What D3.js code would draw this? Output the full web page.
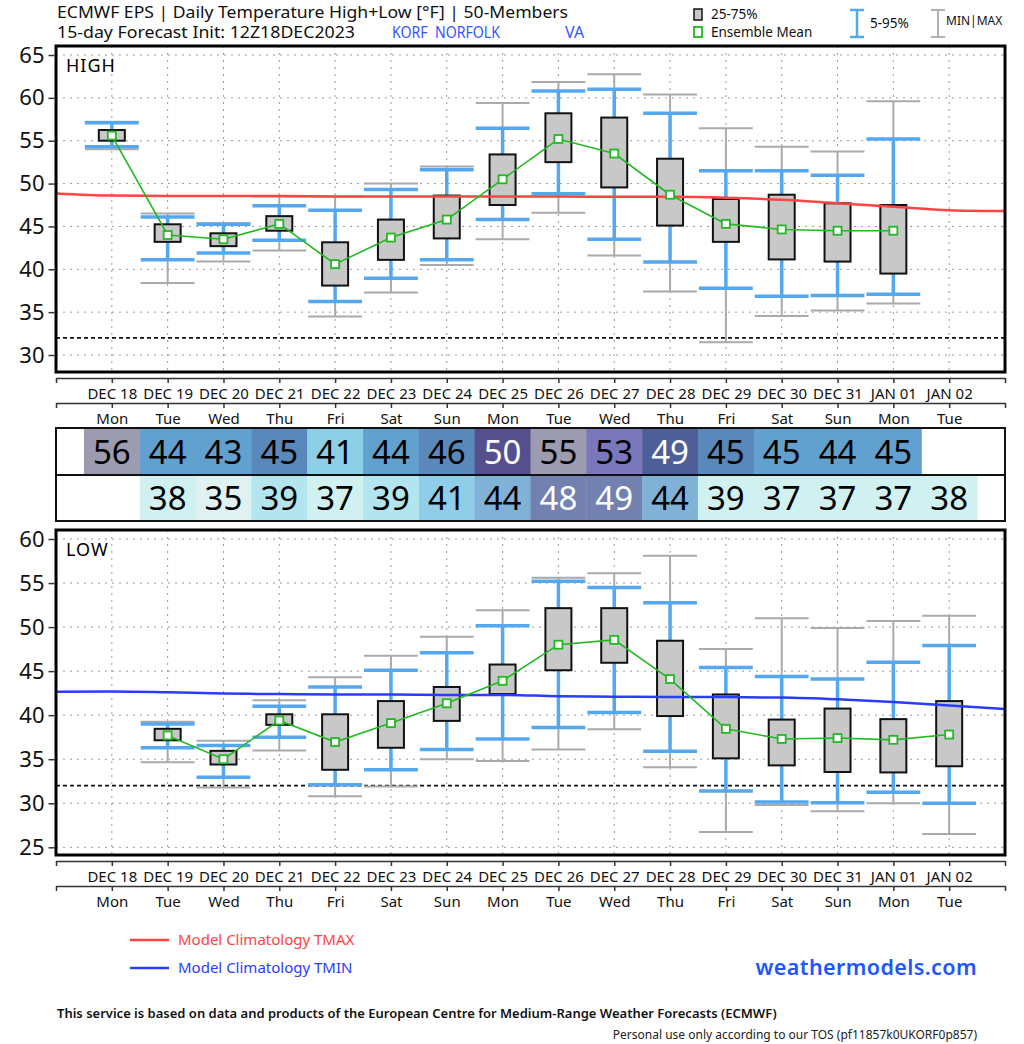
<!DOCTYPE html>
<html><head><meta charset="utf-8">
<script src="https://cdn.jsdelivr.net/npm/d3@7"></script>
<style>body{margin:0;background:#fff} svg{display:block} text{font-family:"Noto Sans",sans-serif}</style>
</head><body><svg id="c" width="1024" height="1044"></svg>
<script>
// ---------- data ----------
const days = ["DEC 18","DEC 19","DEC 20","DEC 21","DEC 22","DEC 23","DEC 24","DEC 25","DEC 26","DEC 27","DEC 28","DEC 29","DEC 30","DEC 31","JAN 01","JAN 02"];
const weekdays = ["Mon","Tue","Wed","Thu","Fri","Sat","Sun","Mon","Tue","Wed","Thu","Fri","Sat","Sun","Mon","Tue"];

// HIGH: Dec 18 .. Jan 01
const hiMin  = [54.0, 38.4, 40.9, 42.2, 34.5, 37.3, 40.5, 43.5, 46.6, 41.6, 37.4, 31.5, 34.55, 35.2, 36.0];
const hiP5   = [54.3, 41.1, 41.9, 43.4, 36.25, 38.95, 41.1, 45.8, 48.8, 43.5, 40.85, 37.8, 36.85, 36.95, 37.1];
const hiQ25  = [55.0, 43.2, 42.7, 44.5, 38.1, 41.1, 43.6, 47.5, 52.5, 49.55, 45.1, 43.2, 41.15, 40.9, 39.5];
const hiMean = [55.6, 44.0, 43.5, 45.3, 40.6, 43.7, 45.8, 50.5, 55.2, 53.5, 48.7, 45.3, 44.65, 44.5, 44.5];
const hiQ75  = [56.25, 45.25, 44.2, 46.2, 43.15, 45.8, 48.6, 53.4, 58.2, 57.7, 52.9, 48.2, 48.7, 47.7, 47.5];
const hiP95  = [57.1, 46.1, 45.25, 47.4, 46.9, 49.3, 51.6, 56.45, 60.8, 61.0, 58.2, 51.5, 51.5, 50.96, 55.2];
const hiMax  = [57.2, 46.5, 45.4, 48.5, 48.5, 50.0, 52.0, 59.4, 61.85, 62.75, 60.4, 56.45, 54.3, 53.75, 59.6];
const hiTable = [56,44,43,45,41,44,46,50,55,53,49,45,45,44,45];

// LOW: Dec 19 .. Jan 02
const loMin  = [34.65, 31.8, 36.0, 30.8, 31.9, 35.0, 34.8, 36.1, 38.4, 34.1, 26.75, 29.8, 29.1, 30.0, 26.5];
const loP5   = [36.3, 32.95, 37.5, 32.1, 33.8, 36.1, 37.3, 38.6, 40.3, 35.9, 31.4, 30.15, 30.05, 31.25, 30.0];
const loQ25  = [37.15, 34.4, 38.9, 33.8, 36.3, 39.35, 42.4, 45.1, 45.95, 39.9, 35.1, 34.3, 33.55, 33.5, 34.2];
const loMean = [37.7, 35.0, 39.4, 36.95, 39.1, 41.35, 43.9, 48.0, 48.55, 44.1, 38.45, 37.3, 37.4, 37.2, 37.8];
const loQ75  = [38.45, 35.95, 40.1, 40.1, 41.6, 43.2, 45.75, 52.15, 52.15, 48.45, 42.35, 39.5, 40.75, 39.55, 41.6];
const loP95  = [39.0, 36.55, 41.0, 43.2, 45.1, 47.1, 50.15, 55.2, 54.5, 52.75, 45.4, 44.4, 44.1, 46.0, 47.9];
const loMax  = [39.25, 37.1, 41.7, 44.3, 46.75, 48.9, 51.9, 55.6, 56.1, 58.1, 47.5, 51.0, 49.9, 50.7, 51.3];
const loTable = [38,35,39,37,39,41,44,48,49,44,39,37,37,37,38];

// model climatology, Dec 17 .. Jan 03
const tmaxClim = [48.85,48.6,48.55,48.55,48.55,48.5,48.5,48.5,48.5,48.5,48.45,48.45,48.35,48.1,47.7,47.3,46.9,46.8];
const tminClim = [42.65,42.7,42.6,42.45,42.4,42.35,42.35,42.3,42.3,42.15,42.1,42.05,42.05,42.0,41.8,41.5,41.1,40.7];

const freezing = 32;

// ---------- layout ----------
const svg = d3.select("#c");
const L = 56, R = 1005;
const x = d3.scaleLinear().domain([-1, 16]).range([L, R]);
const step = x(1) - x(0);

function drawPanel(p) {
  const g = svg.append("g");
  const clipId = "clip" + p.id;
  svg.append("clipPath").attr("id", clipId).append("rect")
    .attr("x", L).attr("y", p.top).attr("width", R - L).attr("height", p.bottom - p.top);
  const gc = g.append("g").attr("clip-path", `url(#${clipId})`);
  const y = p.y;
  // grid
  gc.selectAll(".hg").data(p.ticks).join("line")
    .attr("x1", L).attr("x2", R).attr("y1", d => y(d)).attr("y2", d => y(d))
    .attr("stroke", "#999").attr("stroke-width", 1).attr("stroke-dasharray", "2,5");
  gc.selectAll(".vg").data(d3.range(0, 16)).join("line")
    .attr("x1", d => x(d)).attr("x2", d => x(d)).attr("y1", p.top).attr("y2", p.bottom)
    .attr("stroke", "#999").attr("stroke-width", 1).attr("stroke-dasharray", "2,5");
  // freezing line
  gc.append("line").attr("x1", L).attr("x2", R).attr("y1", y(freezing)).attr("y2", y(freezing))
    .attr("stroke", "#111").attr("stroke-width", 1.6).attr("stroke-dasharray", "4,3");

  const idx = d3.range(p.mean.length);
  const xi = i => x(i + p.offset);
  // min/max
  const mm = gc.append("g").attr("stroke", "#aaaaaa").attr("stroke-width", 2);
  idx.forEach(i => {
    mm.append("line").attr("x1", xi(i)).attr("x2", xi(i)).attr("y1", y(p.min[i])).attr("y2", y(p.max[i]));
    [p.min[i], p.max[i]].forEach(v => mm.append("line").attr("x1", xi(i) - step/2 + 1).attr("x2", xi(i) + step/2 - 1).attr("y1", y(v)).attr("y2", y(v)));
  });
  // 5-95
  const pp = gc.append("g").attr("stroke", "#55a8f0").attr("stroke-width", 3.5);
  idx.forEach(i => {
    pp.append("line").attr("x1", xi(i)).attr("x2", xi(i)).attr("y1", y(p.p5[i])).attr("y2", y(p.p95[i]));
    [p.p5[i], p.p95[i]].forEach(v => pp.append("line").attr("x1", xi(i) - step/2 + 1).attr("x2", xi(i) + step/2 - 1).attr("y1", y(v)).attr("y2", y(v)));
  });
  // boxes
  gc.selectAll(".box").data(idx).join("rect")
    .attr("x", i => xi(i) - 13).attr("width", 26)
    .attr("y", i => y(p.q75[i])).attr("height", i => y(p.q25[i]) - y(p.q75[i]))
    .attr("fill", "#c8c8c8").attr("stroke", "#111").attr("stroke-width", 2);
  // climatology
  gc.append("path").datum(p.clim)
    .attr("d", d3.line().x((d, i) => x(i - 1)).y(d => y(d)).curve(d3.curveMonotoneX))
    .attr("fill", "none").attr("stroke", p.climColor).attr("stroke-width", 2.5);
  // mean line
  gc.append("path").datum(p.mean)
    .attr("d", d3.line().x((d, i) => xi(i)).y(d => y(d)))
    .attr("fill", "none").attr("stroke", "#22b822").attr("stroke-width", 1.6);
  gc.selectAll(".mk").data(idx).join("rect")
    .attr("x", i => xi(i) - 4).attr("y", i => y(p.mean[i]) - 4).attr("width", 8).attr("height", 8)
    .attr("fill", "#fff").attr("stroke", "#22b822").attr("stroke-width", 1.8);
  // frame
  g.append("rect").attr("x", L).attr("y", p.top).attr("width", R - L).attr("height", p.bottom - p.top)
    .attr("fill", "none").attr("stroke", "#000").attr("stroke-width", 3);
  g.append("text").attr("x", 66).attr("y", p.top + 26).text(p.label)
    .attr("font-size", 18).attr("letter-spacing", 1).attr("fill", "#000");
  // y axis
  const ya = g.append("g").attr("transform", `translate(${L - 1.5},0)`)
    .call(d3.axisLeft(y).tickValues(p.ticks).tickSizeInner(6).tickSizeOuter(0).tickPadding(4));
  ya.select(".domain").remove();
  ya.selectAll("text").attr("font-size", 22).attr("font-family", "Noto Sans").attr("fill", "#111");
  ya.selectAll(".tick line").attr("stroke", "#333").attr("stroke-width", 1.5);
  // x axes
  [[p.bottom + 6, days], [p.bottom + 31, weekdays]].forEach(([yy, labels]) => {
    const xa = g.append("g").attr("transform", `translate(0,${yy})`)
      .call(d3.axisBottom(x).tickValues(d3.range(-1, 17)).tickSizeInner(5).tickSizeOuter(0).tickPadding(5)
        .tickFormat(d => labels[d] || ""));
    xa.select(".domain").attr("stroke", "#333").attr("stroke-width", 1.5);
    xa.selectAll(".tick line").attr("stroke", "#333").attr("stroke-width", 1.5);
    xa.selectAll("text").attr("font-size", 15).attr("font-family", "Noto Sans").attr("fill", "#111");
  });
}

drawPanel({id: "hi", top: 46, bottom: 372, y: d3.scaleLinear().domain([30, 65]).range([355, 55]),
  ticks: d3.range(30, 66, 5), offset: 0, min: hiMin, p5: hiP5, q25: hiQ25, mean: hiMean, q75: hiQ75, p95: hiP95, max: hiMax,
  clim: tmaxClim, climColor: "#ff4444", label: "HIGH"});
drawPanel({id: "lo", top: 530, bottom: 855, y: d3.scaleLinear().domain([25, 60]).range([847.3, 539]),
  ticks: d3.range(25, 61, 5), offset: 1, min: loMin, p5: loP5, q25: loQ25, mean: loMean, q75: loQ75, p95: loP95, max: loMax,
  clim: tminClim, climColor: "#2a3cff", label: "LOW"});

// ---------- table ----------
const hiColor = d3.scaleThreshold().domain([42, 45, 47.5, 50, 52.5, 55])
  .range(["#8ecfe8", "#62a0cf", "#5a88bb", "#4e5e98", "#564f8e", "#7b77bb", "#9d9bb0"]);
const hiText = d3.scaleThreshold().domain([47.5, 52.5]).range(["#000", "#fff", "#000"]);
const loColor = d3.scaleThreshold().domain([35.5, 39, 41, 43, 46])
  .range(["#dff1f1", "#d0f1f0", "#b3e5ef", "#8fcde8", "#80b2d8", "#7381b0"]);
const loText = d3.scaleThreshold().domain([46]).range(["#000", "#fff"]);

const tTop = 428, tMid = 475, tBot = 521;
const tg = svg.append("g");
function row(vals, means, offset, y0, y1, cs, ts) {
  const r = tg.append("g");
  r.selectAll("rect").data(vals).join("rect")
    .attr("x", (d, i) => x(i + offset) - step/2).attr("width", step + 0.5)
    .attr("y", y0).attr("height", y1 - y0).attr("fill", (d, i) => cs(means[i]));
  r.selectAll("text").data(vals).join("text")
    .attr("x", (d, i) => x(i + offset)).attr("y", (y0 + y1) / 2 + 12)
    .attr("text-anchor", "middle").attr("font-size", 33).attr("fill", (d, i) => ts(means[i])).text(d => d);
}
row(hiTable, hiMean, 0, tTop, tMid, hiColor, hiText);
row(loTable, loMean, 1, tMid, tBot, loColor, loText);
tg.append("rect").attr("x", L).attr("y", tTop).attr("width", R - L).attr("height", tBot - tTop)
  .attr("fill", "none").attr("stroke", "#111").attr("stroke-width", 2);
tg.append("line").attr("x1", L).attr("x2", R).attr("y1", tMid).attr("y2", tMid).attr("stroke", "#111").attr("stroke-width", 2);

// ---------- header ----------
const hf = "Lato";
svg.append("text").attr("x", 57).attr("y", 18).attr("font-family", hf).attr("font-size", 16).attr("fill", "#111")
  .attr("textLength", 511).attr("lengthAdjust", "spacingAndGlyphs")
  .text("ECMWF EPS | Daily Temperature High+Low [°F] | 50-Members");
svg.append("text").attr("x", 57).attr("y", 38).attr("font-family", hf).attr("font-size", 16).attr("fill", "#111")
  .attr("textLength", 298).attr("lengthAdjust", "spacingAndGlyphs")
  .text("15-day Forecast Init: 12Z18DEC2023");
svg.append("text").attr("x", 392).attr("y", 38).attr("font-family", hf).attr("font-size", 16).attr("fill", "#3355ff")
  .attr("textLength", 108).attr("lengthAdjust", "spacingAndGlyphs")
  .text("KORF  NORFOLK").attr("xml:space", "preserve");
svg.append("text").attr("x", 565).attr("y", 38).attr("font-family", hf).attr("font-size", 16).attr("fill", "#3355ff").text("VA");

// legend top-right
const lg = svg.append("g");
lg.append("rect").attr("x", 694).attr("y", 9).attr("width", 8).attr("height", 11).attr("fill", "#c8c8c8").attr("stroke", "#111").attr("stroke-width", 1.5);
lg.append("text").attr("x", 711).attr("y", 19).attr("font-family", hf).attr("font-size", 13.5).attr("fill", "#111").text("25-75%");
lg.append("rect").attr("x", 694).attr("y", 27).attr("width", 8).attr("height", 10).attr("fill", "#fff").attr("stroke", "#22b822").attr("stroke-width", 1.8);
lg.append("text").attr("x", 711).attr("y", 37).attr("font-family", hf).attr("font-size", 13.5).attr("fill", "#111").text("Ensemble Mean");
[[857, "#55a8f0", 2.5], [938, "#aaaaaa", 1.8]].forEach(([cx, c, w]) => {
  lg.append("line").attr("x1", cx).attr("x2", cx).attr("y1", 10).attr("y2", 37).attr("stroke", c).attr("stroke-width", w);
  lg.append("line").attr("x1", cx - 7).attr("x2", cx + 7).attr("y1", 10).attr("y2", 10).attr("stroke", c).attr("stroke-width", w);
  lg.append("line").attr("x1", cx - 7).attr("x2", cx + 7).attr("y1", 37).attr("y2", 37).attr("stroke", c).attr("stroke-width", w);
});
lg.append("text").attr("x", 870).attr("y", 28).attr("font-family", hf).attr("font-size", 13.5).attr("fill", "#111").text("5-95%");
lg.append("text").attr("x", 946).attr("y", 25).attr("font-family", hf).attr("font-size", 12).attr("fill", "#111").text("MIN|MAX");

// ---------- bottom legend & footer ----------
[[940, "#ff4444", "Model Climatology TMAX"], [968, "#2a3cff", "Model Climatology TMIN"]].forEach(([yy, c, t]) => {
  svg.append("line").attr("x1", 130).attr("x2", 169).attr("y1", yy).attr("y2", yy).attr("stroke", c).attr("stroke-width", 2.5);
  svg.append("text").attr("x", 178).attr("y", yy + 5).attr("font-family", hf).attr("font-size", 15).attr("fill", c).text(t);
});
svg.append("text").attr("x", 977).attr("y", 975).attr("text-anchor", "end").attr("font-family", hf)
  .attr("font-size", 21.5).attr("font-weight", 600).attr("letter-spacing", 0.4).attr("fill", "#2255ff").text("weathermodels.com");
svg.append("text").attr("x", 57).attr("y", 1018).attr("font-family", hf).attr("font-size", 13).attr("font-weight", 600).attr("fill", "#111")
  .text("This service is based on data and products of the European Centre for Medium-Range Weather Forecasts (ECMWF)");
svg.append("text").attr("x", 977).attr("y", 1039).attr("text-anchor", "end").attr("font-family", "Liberation Sans Narrow, Liberation Sans")
  .attr("font-size", 12).attr("fill", "#222").text("Personal use only according to our TOS (pf11857k0UKORF0p857)");
</script></body></html>
